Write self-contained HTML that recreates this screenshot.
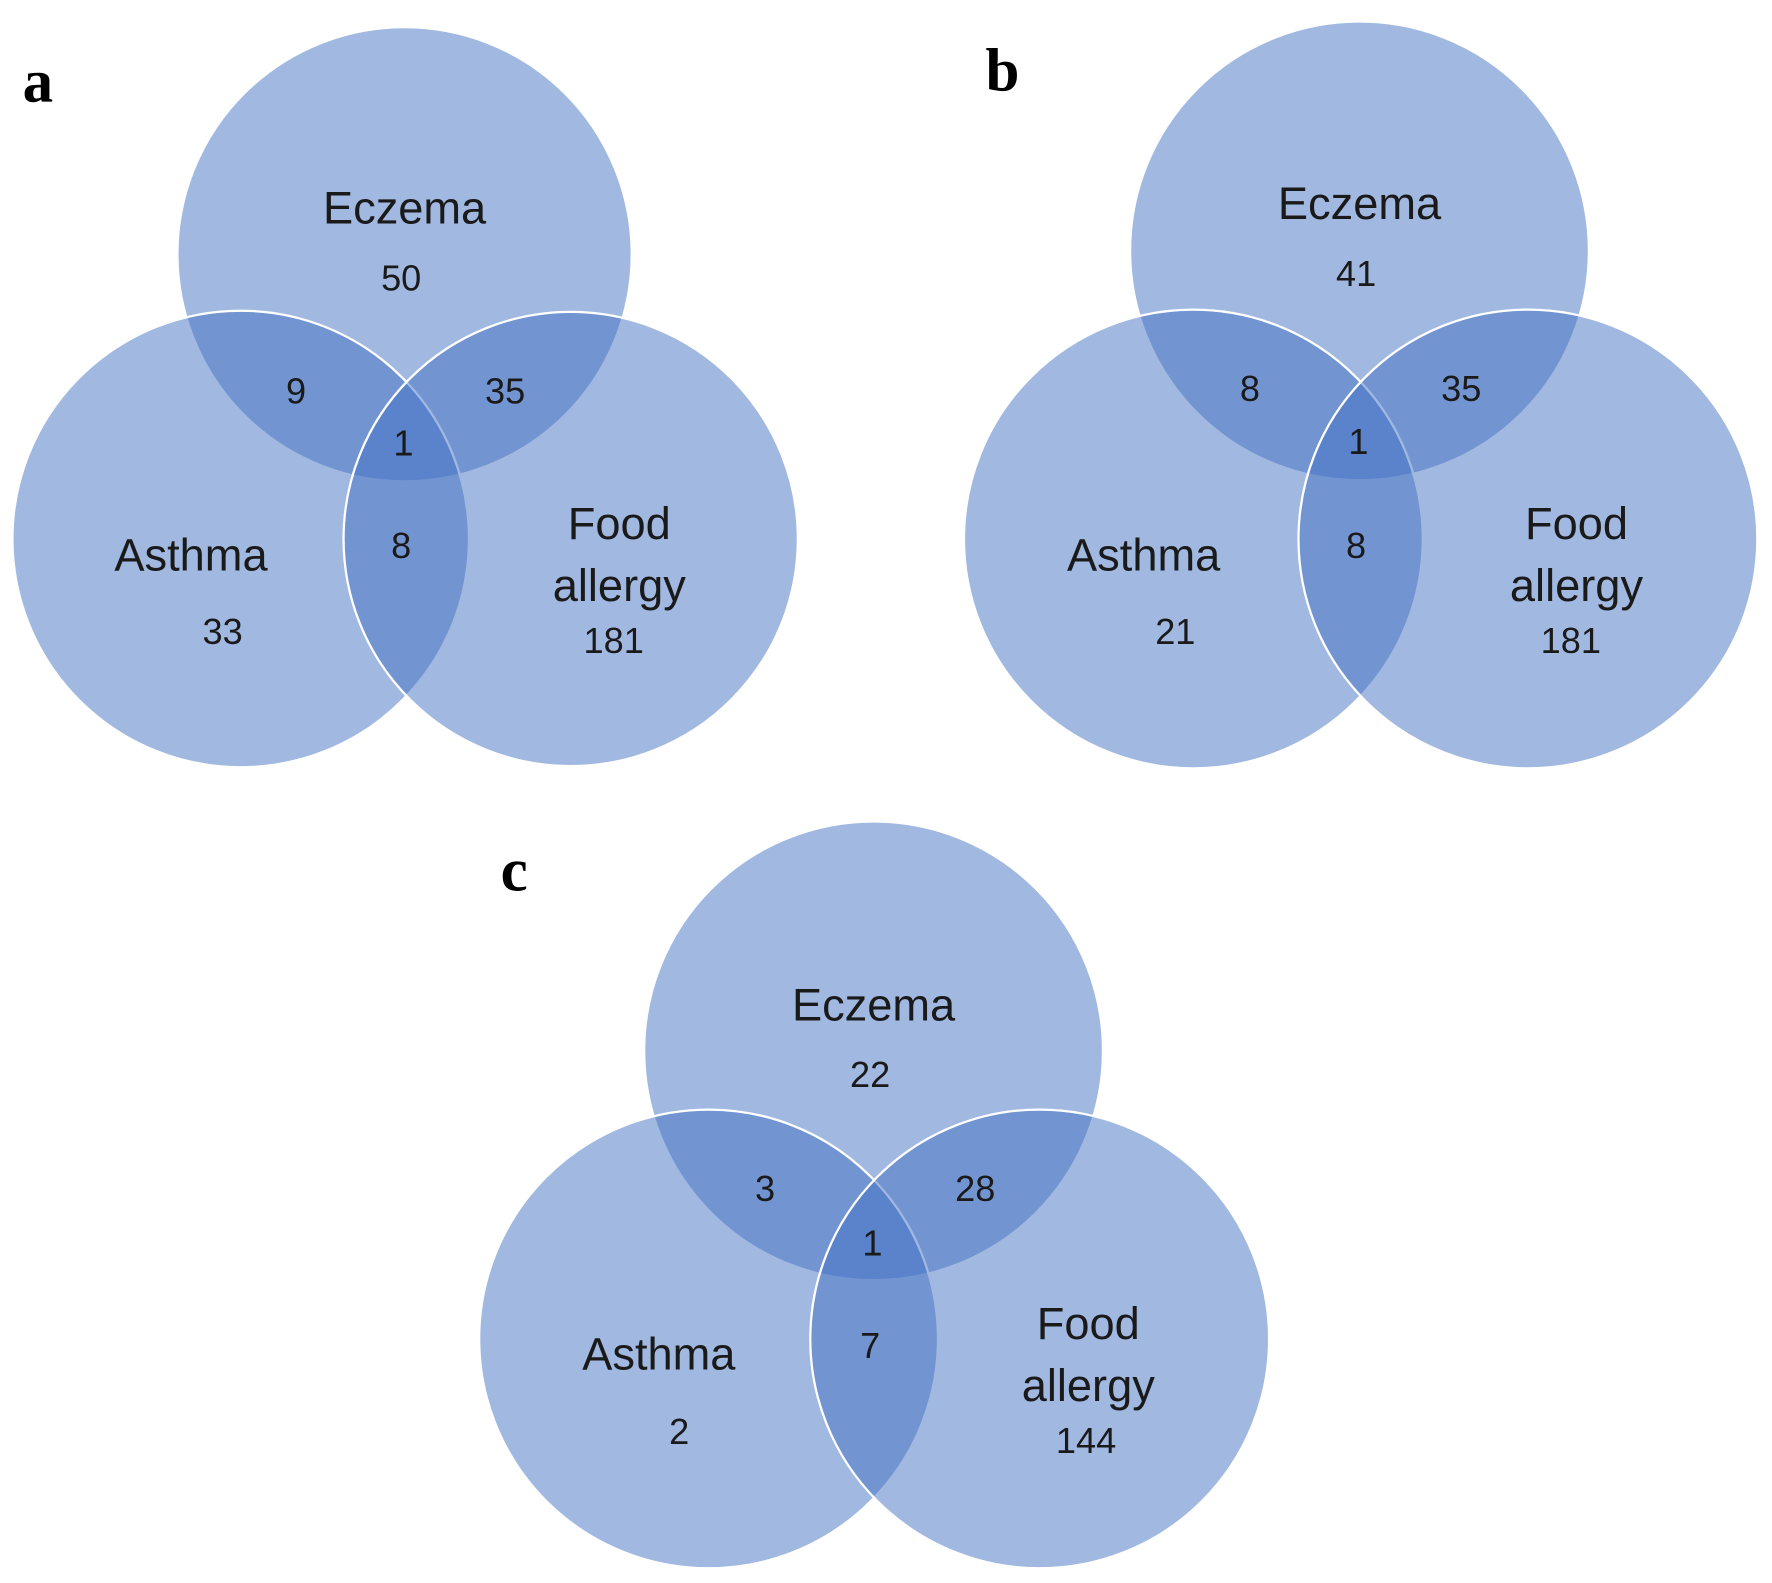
<!DOCTYPE html>
<html><head><meta charset="utf-8"><style>
html,body{margin:0;padding:0;background:#fff;}
svg{display:block}
.l{font-family:"Liberation Sans",sans-serif;font-size:40px;fill:#1a1a1a;text-anchor:middle}
.n{font-family:"Liberation Sans",sans-serif;font-size:32px;fill:#1a1a1a;text-anchor:middle}
.p{font-family:"Liberation Serif",serif;font-weight:bold;font-size:54px;fill:#000}
circle{fill:rgb(68,114,196);fill-opacity:0.5;stroke:#fff;stroke-width:2}
</style></head><body>
<svg width="1772" height="1583" viewBox="0 0 1568 1401" preserveAspectRatio="none" xmlns="http://www.w3.org/2000/svg">
<!-- a -->
<circle cx="358" cy="225" r="201"/>
<circle cx="213" cy="477" r="202"/>
<circle cx="505" cy="477" r="201"/>
<text class="p" x="20" y="90">a</text>
<text class="l" x="358" y="198">Eczema</text>
<text class="n" x="355" y="257">50</text>
<text class="n" x="262" y="357">9</text>
<text class="n" x="447" y="357">35</text>
<text class="n" x="357" y="403">1</text>
<text class="n" x="355" y="494">8</text>
<text class="l" x="169" y="505">Asthma</text>
<text class="n" x="197" y="570">33</text>
<text class="l" x="548" y="477">Food</text>
<text class="l" x="548" y="532">allergy</text>
<text class="n" x="543" y="578">181</text>
<!-- b -->
<circle cx="1203" cy="222" r="203"/>
<circle cx="1056" cy="477" r="203"/>
<circle cx="1352" cy="477" r="203"/>
<text class="p" x="872" y="80">b</text>
<text class="l" x="1203" y="194">Eczema</text>
<text class="n" x="1200" y="253">41</text>
<text class="n" x="1106" y="355">8</text>
<text class="n" x="1293" y="355">35</text>
<text class="n" x="1202" y="402">1</text>
<text class="n" x="1200" y="494">8</text>
<text class="l" x="1012" y="505">Asthma</text>
<text class="n" x="1040" y="570">21</text>
<text class="l" x="1395" y="477">Food</text>
<text class="l" x="1395" y="532">allergy</text>
<text class="n" x="1390" y="578">181</text>
<!-- c -->
<circle cx="773" cy="930" r="203"/>
<circle cx="627" cy="1185" r="203"/>
<circle cx="920" cy="1185" r="203"/>
<text class="p" x="443" y="788">c</text>
<text class="l" x="773" y="903">Eczema</text>
<text class="n" x="770" y="962">22</text>
<text class="n" x="677" y="1063">3</text>
<text class="n" x="863" y="1063">28</text>
<text class="n" x="772" y="1111">1</text>
<text class="n" x="770" y="1202">7</text>
<text class="l" x="583" y="1212">Asthma</text>
<text class="n" x="601" y="1278">2</text>
<text class="l" x="963" y="1185">Food</text>
<text class="l" x="963" y="1240">allergy</text>
<text class="n" x="961" y="1286">144</text>
</svg>
</body></html>
